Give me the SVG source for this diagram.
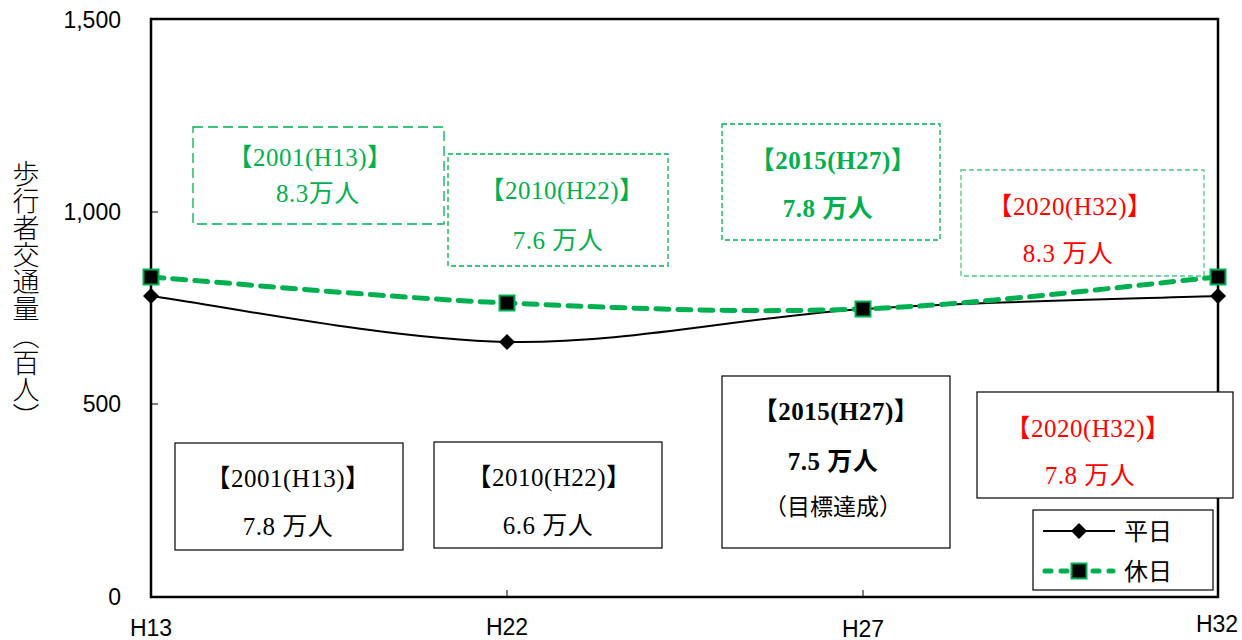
<svg xmlns="http://www.w3.org/2000/svg" width="1242" height="640" viewBox="0 0 1242 640">
<defs>
<style>
.ax{font-family:"Liberation Sans","Noto Sans",sans-serif;font-size:23px;fill:#000}
.sr{font-family:"Liberation Serif","Noto Sans CJK JP",serif;font-size:25px;letter-spacing:0.5px;text-anchor:middle}
.b{font-weight:bold}
.g{fill:#00B050}
.r{fill:#FF0000}
.k{fill:#000}
.jp{font-family:"Noto Sans CJK JP",sans-serif}
.bx{fill:#fff;stroke:#000;stroke-width:1.2}
.gb{fill:#fff;stroke:#00B050;stroke-width:1.3}
</style>
<g id="dia"><path d="M0,-8 L8,0 L0,8 L-8,0 Z" fill="#000"/></g>
<g id="sq"><rect x="-7.5" y="-7.5" width="15" height="15" fill="#000" stroke="#00B050" stroke-width="2"/></g>
</defs>
<rect width="1242" height="640" fill="#fff"/>

<g id="axes">
<rect x="151" y="19" width="1067" height="578" fill="none" stroke="#000" stroke-width="2.5"/>
<line x1="151" y1="212" x2="158" y2="212" stroke="#000" stroke-width="1"/>
<line x1="151" y1="404" x2="158" y2="404" stroke="#000" stroke-width="1"/>
<line x1="507" y1="590" x2="507" y2="597" stroke="#000" stroke-width="1"/>
<line x1="863" y1="590" x2="863" y2="597" stroke="#000" stroke-width="1"/>
<text class="ax" x="121" y="28" text-anchor="end">1,500</text>
<text class="ax" x="121" y="220" text-anchor="end">1,000</text>
<text class="ax" x="121" y="412" text-anchor="end">500</text>
<text class="ax" x="121" y="605" text-anchor="end">0</text>
<text class="ax" x="151" y="636" text-anchor="middle">H13</text>
<text class="ax" x="507" y="635" text-anchor="middle">H22</text>
<text class="ax" x="863" y="637" text-anchor="middle">H27</text>
<text class="ax" x="1217" y="632" text-anchor="middle">H32</text>
<text x="26" y="160" style="writing-mode:vertical-rl" font-family="Noto Sans CJK JP,sans-serif" font-weight="300" font-size="27" fill="#000">歩行者交通量（百人）</text>
</g>

<g id="green-box-2001">
<rect class="gb" x="193" y="127" width="251" height="97" stroke-dasharray="10,5"/>
<text class="sr g" x="310" y="166">【2001(H13)】</text>
<text class="sr g" x="318" y="202">8.3万人</text>
</g>
<g id="green-box-2010">
<rect class="gb" x="448" y="154" width="220" height="112" stroke-dasharray="5,3" stroke-width="1"/>
<text class="sr g" x="562" y="199">【2010(H22)】</text>
<text class="sr g" x="558" y="249">7.6 万人</text>
</g>
<g id="green-box-2015">
<rect class="gb" x="722" y="124" width="218" height="116" stroke-dasharray="5,3" stroke-width="1"/>
<text class="sr g b" x="833" y="169">【2015(H27)】</text>
<text class="sr g b" x="828" y="217">7.8 万人</text>
</g>
<g id="green-box-2020">
<rect class="gb" x="961" y="170" width="243" height="106" stroke-dasharray="5,3" stroke-width="1" stroke-opacity="0.7"/>
<text class="sr r" x="1070" y="215">【2020(H32)】</text>
<text class="sr r" x="1068" y="262">8.3 万人</text>
</g>

<g id="connectors">
<path id="weekday" d="M151,296 C210.3,303.7 388.3,339.8 507,342 C625.7,344.2 744.5,316.7 863,309 C981.5,301.3 1158.8,298.2 1218,296" fill="none" stroke="#000" stroke-width="2"/>
<path id="holiday" d="M151,277 C210.3,281.3 388.3,297.7 507,303 C625.7,308.3 744.5,313.3 863,309 C981.5,304.7 1158.8,282.3 1218,277" fill="none" stroke="#00B050" stroke-width="5" stroke-dasharray="13,9" stroke-linecap="round"/>
</g>

<g id="markers">
<use href="#dia" x="151" y="296"/>
<use href="#dia" x="507" y="342"/>
<use href="#dia" x="863" y="309"/>
<use href="#dia" x="1218" y="296"/>
<use href="#sq" x="151" y="277"/>
<use href="#sq" x="507" y="303"/>
<use href="#sq" x="863" y="309"/>
<use href="#sq" x="1218" y="277"/>
</g>

<g id="box-2001">
<rect class="bx" x="175" y="443" width="228" height="107"/>
<text class="sr k" x="288" y="487">【2001(H13)】</text>
<text class="sr k" x="288" y="535">7.8 万人</text>
</g>
<g id="box-2010">
<rect class="bx" x="434" y="442" width="228" height="106"/>
<text class="sr k" x="549" y="486">【2010(H22)】</text>
<text class="sr k" x="548" y="534">6.6 万人</text>
</g>
<g id="box-2015">
<rect class="bx" x="722" y="376" width="228" height="172"/>
<text class="sr k b" x="836" y="420">【2015(H27)】</text>
<text class="sr k b" x="833" y="470">7.5 万人</text>
<text class="jp" x="833" y="515" font-size="23" text-anchor="middle" fill="#000">（目標達成）</text>
</g>
<g id="box-2020">
<rect class="bx" x="977" y="392" width="256" height="106"/>
<text class="sr r" x="1088" y="437">【2020(H32)】</text>
<text class="sr r" x="1090" y="484">7.8 万人</text>
</g>

<g id="legend">
<rect x="1033" y="510" width="180" height="80" fill="#fff" stroke="#000" stroke-width="1.2"/>
<line x1="1043" y1="531" x2="1115" y2="531" stroke="#000" stroke-width="2"/>
<use href="#dia" x="1079" y="531"/>
<text class="jp" x="1124" y="540" font-size="24" fill="#000">平日</text>
<line x1="1045" y1="571" x2="1113" y2="571" stroke="#00B050" stroke-width="5" stroke-dasharray="6,10" stroke-linecap="round"/>
<use href="#sq" x="1079" y="571"/>
<text class="jp" x="1124" y="580" font-size="24" fill="#000">休日</text>
</g>
</svg>
